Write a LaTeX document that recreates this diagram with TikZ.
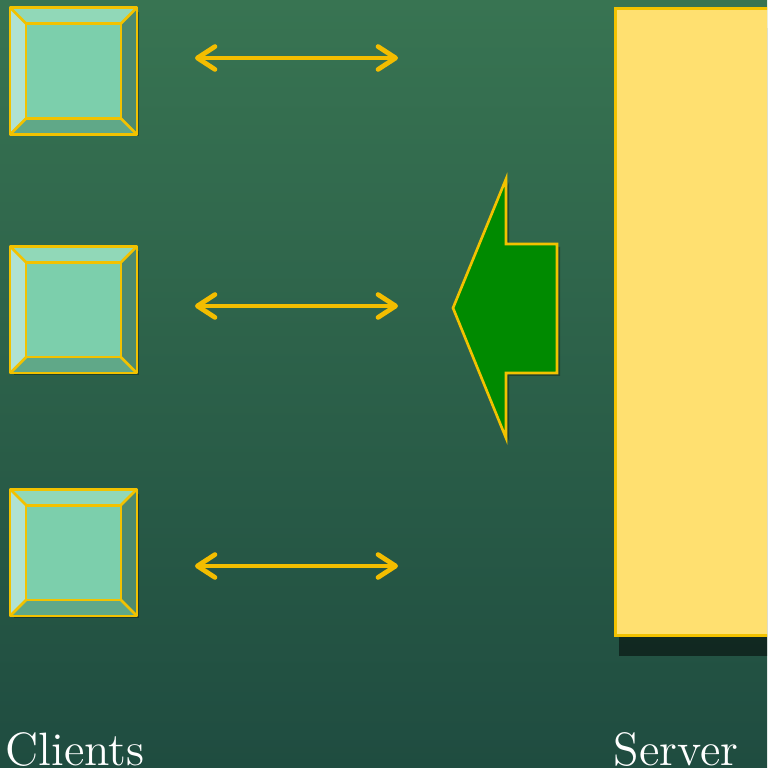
\documentclass[tikz,border=0pt]{standalone}
\usepackage{tikz}
\usetikzlibrary{positioning,calc,arrows.meta,shadows}

\definecolor{boardtop}{RGB}{56,116,82}
\definecolor{boardbot}{RGB}{31,76,64}
\definecolor{rim}{RGB}{242,194,0}
\definecolor{face}{RGB}{124,207,172}
\definecolor{bevtop}{RGB}{145,216,184}
\definecolor{bevleft}{RGB}{176,226,210}
\definecolor{bevright}{RGB}{78,138,110}
\definecolor{bevbot}{RGB}{96,168,136}
\definecolor{paper}{RGB}{255,224,112}
\definecolor{push}{RGB}{0,138,0}

\begin{document}
\begin{tikzpicture}[x=0.01cm, y=-0.01cm,
  client/.style={draw=rim, line width=0.75pt, fill=face, minimum size=1.24cm, inner sep=0pt,
    drop shadow={fill=black, opacity=0.3, shadow xshift=0.3mm, shadow yshift=-0.3mm}},
  bevel/.style={draw=rim, line width=0.75pt, line join=round},
  link/.style={draw=rim!92!orange, line width=1.35pt, line cap=round,
    {Straight Barb[length=5pt, width=6.5pt, round]}-{Straight Barb[length=5pt, width=6.5pt, round]}},
  serverbox/.style={draw=rim, line width=0.75pt, fill=paper, inner sep=0pt,
    drop shadow={fill=black, opacity=0.5, shadow xshift=0.4mm, shadow yshift=-2mm}},
  caption/.style={text=white, font=\fontsize{13.3}{16}\selectfont, inner sep=0pt}
]
\useasboundingbox (0,0) rectangle (767,768);
\clip (0,0) rectangle (767,768);
\shade[top color=boardtop, bottom color=boardbot] (0,0) rectangle (767,768);

%% server side
\node[serverbox, anchor=north west, minimum width=1.8cm, minimum height=6.27cm] (server) at (614,7) {};

\draw[draw=rim, line width=0.75pt, fill=push, line join=miter,
  drop shadow={fill=black, opacity=0.3, shadow xshift=0.3mm, shadow yshift=-0.3mm}]
  (453,308) -- (506,179) -- (506,244) -- (557,244) -- (557,373) -- (506,373) -- (506,438) -- cycle;

%% clients
\node[client] (client_a) at (73.5,71) {};
\node[client, below=1.12cm of client_a] (client_b) {};
\node[client, below=1.16cm of client_b] (client_c) {};

\foreach \c in {client_a,client_b,client_c}{
  \coordinate (\c_nw) at ($(\c.north west)+(16,16)$);
  \coordinate (\c_ne) at ($(\c.north east)+(-16,16)$);
  \coordinate (\c_se) at ($(\c.south east)+(-16,-16)$);
  \coordinate (\c_sw) at ($(\c.south west)+(16,-16)$);
  \fill[bevtop] (\c.north west) -- (\c.north east) -- (\c_ne) -- (\c_nw) -- cycle;
  \fill[bevleft] (\c.north west) -- (\c.south west) -- (\c_sw) -- (\c_nw) -- cycle;
  \fill[bevright] (\c.north east) -- (\c.south east) -- (\c_se) -- (\c_ne) -- cycle;
  \fill[bevbot] (\c.south west) -- (\c.south east) -- (\c_se) -- (\c_sw) -- cycle;
  \draw[bevel] (\c_nw) rectangle (\c_se);
  \draw[bevel] (\c.north west) -- (\c_nw) (\c.north east) -- (\c_ne)
    (\c.south east) -- (\c_se) (\c.south west) -- (\c_sw);
  \draw[bevel] (\c.north west) rectangle (\c.south east);
}

%% links
\coordinate (link_a_l) at (195,58);  \coordinate (link_a_r) at (398,58);
\coordinate (link_b_l) at (195,306); \coordinate (link_b_r) at (398,306);
\coordinate (link_c_l) at (195,566); \coordinate (link_c_r) at (398,566);
\draw[link] (link_a_l) -- (link_a_r);
\draw[link] (link_b_l) -- (link_b_r);
\draw[link] (link_c_l) -- (link_c_r);

%% labels
\node[caption, anchor=base west] (clients_label) at (5,765) {Clients};
\node[caption, anchor=base west] (server_label) at (613,765) {Server};
\end{tikzpicture}
\end{document}
